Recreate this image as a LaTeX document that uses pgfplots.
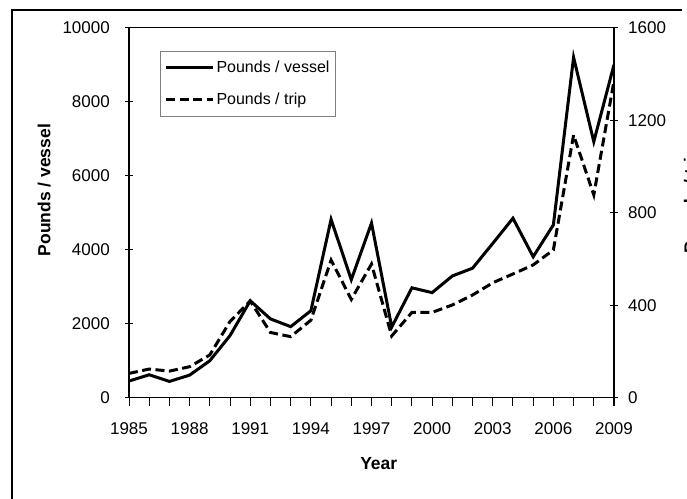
\documentclass[border=0pt]{standalone}
\usepackage{fontspec}
\setmainfont{Liberation Sans}
\usepackage{pgfplots}
\pgfplotsset{compat=1.18}
\pgfplotstableread{
year vessel trip
1985 450 105
1986 620 124
1987 440 115
1988 610 134
1989 1000 185
1990 1680 330
1991 2620 418
1992 2130 282
1993 1920 264
1994 2350 335
1995 4820 595
1996 3190 425
1997 4720 578
1998 1910 267
1999 2970 369
2000 2840 369
2001 3290 401
2002 3500 444
2003 4170 497
2004 4850 535
2005 3810 574
2006 4670 639
2007 9200 1136
2008 6920 877
2009 9000 1370
}\datatable
\begin{document}
\begin{tikzpicture}
\useasboundingbox (0bp,0bp) rectangle (687bp,-499bp);
\clip (0bp,0bp) rectangle (687bp,-499bp);
\draw[line width=1.5bp] (12bp,-505bp) -- (12bp,-10bp) -- (682bp,-10bp);
\pgfplotsset{
  common/.style={
    at={(129bp,-397.7bp)}, anchor=south west,
    scale only axis, width=485bp, height=370bp,
    xmin=1985, xmax=2009, ymin=0,
    scaled y ticks=false, scaled x ticks=false,
    axis line style={line width=1.5bp},
    major tick length=8bp,
    tick style={line width=1bp, black},
    tick label style={font=\fontsize{17bp}{20bp}\selectfont},
    /pgf/number format/assume math mode=true,
    /pgf/number format/1000 sep={},
    label style={font=\bfseries\fontsize{17.5bp}{20bp}\selectfont},
  }
}
\begin{axis}[common,
  ymax=10000,
  ytick={0,2000,...,10000},
  xtick={1985,1988,...,2009},
  minor xtick={1985,...,2009},
  minor tick length=8bp,
  xtick align=outside,
  ytick align=center,
  xtick pos=bottom, ytick pos=left,
  yticklabel style={anchor=east, inner sep=0pt, xshift=-15bp},
  xticklabel style={anchor=center, inner sep=0pt, yshift=-23bp},
  xlabel={Year},
  xlabel style={at={(axis description cs:0.515,-0.177)}, anchor=center},
  ylabel={Pounds / vessel},
  ylabel style={at={(axis description cs:-0.175,0.561)}, anchor=center},
  legend style={at={(0.064,0.938)}, anchor=north west, draw=gray, line width=1bp,
    font=\fontsize{16bp}{19bp}\selectfont, inner xsep=4bp, inner ysep=8bp,
    row sep=15bp, cells={anchor=west}},
  legend image code/.code={\draw[#1] (0bp,0bp) -- (47bp,0bp);},
]
\addplot[black, line width=3bp] table[x=year, y=vessel] {\datatable};
\addlegendentry{Pounds / vessel}
\addlegendimage{black, line width=3bp, dash pattern=on 9bp off 4.5bp}
\addlegendentry{Pounds / trip}
\end{axis}
\begin{axis}[common,
  ymax=1600,
  ytick={0,400,...,1600},
  axis x line=none,
  axis y line*=right,
  ytick align=center,
  yticklabel style={anchor=west, inner sep=0pt, xshift=10bp},
  ylabel={Pounds / trip},
  ylabel style={at={(axis description cs:1.161,0.534)}, anchor=center},
]
\addplot[black, line width=3bp, dash pattern=on 9bp off 4.5bp] table[x=year, y=trip] {\datatable};
\end{axis}
\end{tikzpicture}
\end{document}
